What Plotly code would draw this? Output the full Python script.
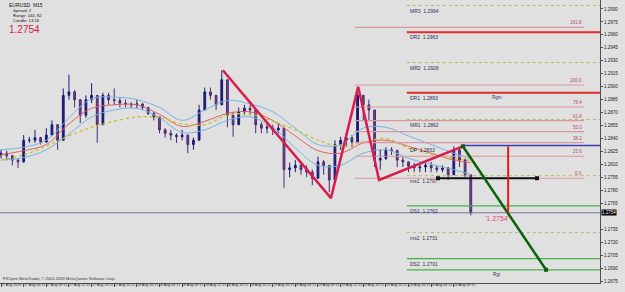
import plotly.graph_objects as go

# ---------------- data ----------------
hours = list(range(84))  # hourly bars from 17 Aug 00:15
first_open = 1.2821
closes = [1.2823,1.2820,1.2815,1.2813,1.2838,1.2838,1.2841,1.2836,1.2844,1.2856,
          1.2838,1.2890,1.2894,1.2885,1.2867,1.2885,1.2890,1.2856,1.2890,1.2885,
          1.2884,1.2881,1.2880,1.2879,1.2880,1.2876,1.2869,1.2865,1.2850,1.2846,
          1.2844,1.2842,1.2844,1.2833,1.2838,1.2873,1.2894,1.2890,1.2879,1.2908,
          1.2867,1.2856,1.2871,1.2875,1.2873,1.2856,1.2852,1.2853,1.2850,1.2852,
          1.2804,1.2806,1.2809,1.2804,1.2801,1.2794,1.2813,1.2809,1.2792,1.2833,
          1.2838,1.2841,1.2836,1.2890,1.2879,1.2873,1.2815,1.2817,1.2827,1.2826,
          1.2815,1.2813,1.2808,1.2806,1.2807,1.2809,1.2806,1.2804,1.2806,1.2798,
          1.2827,1.2815,1.2798,1.2754]
highs = [1.2827,1.2826,1.2821,1.2817,1.2844,1.2842,1.2850,1.2842,1.2852,1.2861,
         1.2856,1.2898,1.2914,1.2896,1.2885,1.2890,1.2904,1.2890,1.2893,1.2893,
         1.2898,1.2887,1.2885,1.2882,1.2885,1.2881,1.2876,1.2871,1.2865,1.2852,
         1.2850,1.2846,1.2850,1.2844,1.2841,1.2879,1.2899,1.2899,1.2890,1.2919,
         1.2908,1.2871,1.2876,1.2879,1.2879,1.2873,1.2859,1.2858,1.2856,1.2858,
         1.2852,1.2812,1.2815,1.2812,1.2809,1.2804,1.2819,1.2815,1.2809,1.2838,
         1.2842,1.2846,1.2844,1.2899,1.2890,1.2885,1.2873,1.2827,1.2830,1.2830,
         1.2827,1.2819,1.2813,1.2812,1.2812,1.2813,1.2813,1.2809,1.2809,1.2807,
         1.2831,1.2827,1.2817,1.2798]
lows = [1.2817,1.2815,1.2809,1.2806,1.2812,1.2835,1.2835,1.2833,1.2835,1.2844,
        1.2827,1.2838,1.2885,1.2876,1.2858,1.2864,1.2881,1.2835,1.2856,1.2879,
        1.2879,1.2876,1.2876,1.2875,1.2875,1.2873,1.2867,1.2861,1.2846,1.2841,
        1.2838,1.2835,1.2838,1.2823,1.2827,1.2838,1.2873,1.2885,1.2873,1.2879,
        1.2853,1.2842,1.2856,1.2867,1.2867,1.2846,1.2846,1.2846,1.2844,1.2846,
        1.2783,1.2795,1.2801,1.2798,1.2795,1.2786,1.2794,1.2798,1.2778,1.2792,
        1.2827,1.2830,1.2830,1.2836,1.2861,1.2861,1.2807,1.2804,1.2815,1.2821,
        1.2807,1.2807,1.2801,1.2801,1.2801,1.2801,1.2801,1.2801,1.2801,1.2792,
        1.2798,1.2807,1.2795,1.2751]
opens = [first_open] + closes[:-1]

ma_hours = [0,4,8,12,16,20,24,28,32,36,40,44,48,52,56,60,64,68,72,76,80,83]
ma_slow = [1.2815,1.2821,1.2831,1.2843,1.2853,1.2860,1.2865,1.2864,1.2857,1.2856,1.2867,
           1.2868,1.2860,1.2850,1.2838,1.2831,1.2836,1.2840,1.2829,1.2822,1.2817,1.2815]
ma_mid = [1.2821,1.2826,1.2833,1.2857,1.2875,1.2879,1.2879,1.2868,1.2854,1.2860,1.2869,
          1.2871,1.2861,1.2843,1.2826,1.2823,1.2835,1.2838,1.2831,1.2823,1.2815,1.2812]
band_up = [1.2827,1.2830,1.2838,1.2864,1.2886,1.2888,1.2885,1.2876,1.2861,1.2873,1.2884,
           1.2880,1.2871,1.2852,1.2833,1.2833,1.2852,1.2853,1.2843,1.2833,1.2823,1.2817]
band_dn = [1.2815,1.2818,1.2827,1.2845,1.2865,1.2873,1.2875,1.2864,1.2847,1.2850,1.2861,
           1.2865,1.2853,1.2829,1.2809,1.2809,1.2823,1.2827,1.2817,1.2810,1.2804,1.2798]

pivot_names = ["MR3", "DR2", "MR2", "DR1", "MR1", "DP", "ms1", "DS1", "ms2", "DS2"]
pivot_values = [1.2994, 1.2963, 1.2928, 1.2893, 1.2862, 1.2832, 1.2797, 1.2762, 1.2731, 1.2701]
target_value = 1.2688

fib_levels = [0.0, 23.6, 38.2, 50.0, 61.8, 76.4, 100.0, 161.8]
fib_low, fib_high = 1.2794, 1.2902

zigzag_hours = [39.2, 58.3, 63.1, 66.8, 81.6]
zigzag_prices = [1.2919, 1.2771, 1.2900, 1.2792, 1.2831]
proj_hours = [81.6, 96.3]
proj_prices = [1.2831, 1.2688]
hseg_hours = [77.2, 94.7]
hseg_price = 1.2794
vseg_hour = 89.6
vseg_prices = [1.2831, 1.2754]
last_price = 1.2754

time_label_hours = [0,4,8,12,16,20,24,28,32,36,40,44,48,52,56,60,64,68,72,76,80]
time_labels = ["17 Aug 2010","17 Aug 04:15","17 Aug 08:15","17 Aug 12:15","17 Aug 16:15",
               "17 Aug 20:15","18 Aug 00:15","18 Aug 04:15","18 Aug 08:15","18 Aug 12:15",
               "18 Aug 16:15","18 Aug 20:15","19 Aug 00:15","19 Aug 04:15","19 Aug 08:15",
               "19 Aug 12:15","19 Aug 16:15","19 Aug 20:15","20 Aug 00:15","20 Aug 04:15",
               "20 Aug 08:15"]
price_ticks = [1.2990,1.2975,1.2960,1.2945,1.2930,1.2915,1.2900,1.2885,1.2870,1.2855,1.2840,
               1.2825,1.2810,1.2795,1.2780,1.2765,1.2735,1.2720,1.2705,1.2690,1.2675]

# ---------------- layout constants ----------------
W, H = 625, 292
X_RANGE = [-0.18, 105.83]
Y_RANGE = [1.26727, 1.30004]
PIVOT_X0, X_END = 71.7, 105.83
FIB_X0, FIB_X1 = 62.5, 103.0
DP_X0 = 81.6
LABEL_H = 87.6
BG = "#e0e0e0"
FONT = "Liberation Sans"

fig = go.Figure()

# moving averages
fig.add_trace(go.Scatter(x=ma_hours, y=band_up, mode="lines", line=dict(color="#78b4e4", width=1, shape="spline")))
fig.add_trace(go.Scatter(x=ma_hours, y=band_dn, mode="lines", line=dict(color="#78b4e4", width=1, shape="spline")))
fig.add_trace(go.Scatter(x=ma_hours, y=ma_mid, mode="lines", line=dict(color="#e06060", width=1, shape="spline")))
fig.add_trace(go.Scatter(x=ma_hours, y=ma_slow, mode="lines", line=dict(color="#c8c020", width=1.3, dash="dot", shape="spline")))

# candles
fig.add_trace(go.Candlestick(
    x=hours, open=opens, high=highs, low=lows, close=closes,
    increasing=dict(line=dict(color="#1c1c78", width=1), fillcolor="#1c1c78"),
    decreasing=dict(line=dict(color="#4a2a70", width=1), fillcolor="#6a4a8a"),
    whiskerwidth=0,
))

# fib lines
rng = fib_high - fib_low
for lv in fib_levels:
    p = fib_low + rng * lv / 100.0
    fig.add_trace(go.Scatter(x=[FIB_X0, FIB_X1], y=[p, p], mode="lines",
                             line=dict(color="#dc97a0", width=1.2)))
    fig.add_annotation(x=FIB_X1, y=p, text=f"{lv:.1f}", showarrow=False, xanchor="right",
                       yanchor="bottom", font=dict(size=4.5, color="#b04868", family=FONT))

# pivot lines
for name, val in zip(pivot_names, pivot_values):
    x0 = DP_X0 if name == "DP" else PIVOT_X0
    if name.startswith("DR"):
        ln = dict(color="#e42a2a", width=2)
    elif name.startswith("DS"):
        ln = dict(color="#48b048", width=1.3)
    elif name == "DP":
        ln = dict(color="#3a3ab8", width=1.5)
    else:
        ln = dict(color="#b8b860", width=1, dash="dot")
    fig.add_trace(go.Scatter(x=[x0, X_END], y=[val, val], mode="lines", line=ln))
    fig.add_annotation(x=PIVOT_X0, y=val, text=f"{name}  {val:.4f}", showarrow=False,
                       xanchor="left", yanchor="top", xshift=1,
                       font=dict(size=5, color="#303058", family=FONT))

# target line
fig.add_trace(go.Scatter(x=[PIVOT_X0, X_END], y=[target_value, target_value], mode="lines",
                         line=dict(color="#48b048", width=1.3)))
fig.add_annotation(x=LABEL_H, y=target_value, text="Rgt", showarrow=False, yanchor="top",
                   font=dict(size=4.5, color="#303058", family=FONT))
fig.add_annotation(x=LABEL_H, y=pivot_values[3], text="Rgm", showarrow=False, yanchor="top",
                   font=dict(size=4.5, color="#303058", family=FONT))

# current price line
fig.add_trace(go.Scatter(x=[X_RANGE[0], X_END], y=[last_price, last_price], mode="lines",
                         line=dict(color="#7474a4", width=1)))

# drawn objects
fig.add_trace(go.Scatter(x=zigzag_hours, y=zigzag_prices, mode="lines",
                         line=dict(color="#d81c4c", width=2.5)))
fig.add_trace(go.Scatter(x=hseg_hours, y=[hseg_price, hseg_price], mode="lines+markers",
                         line=dict(color="#101010", width=2),
                         marker=dict(symbol="square", size=4, color="#101010")))
fig.add_trace(go.Scatter(x=proj_hours, y=proj_prices, mode="lines+markers",
                         line=dict(color="#0c600c", width=2.5),
                         marker=dict(symbol="square", size=4, color="#0c600c")))
fig.add_trace(go.Scatter(x=[vseg_hour, vseg_hour], y=vseg_prices, mode="lines",
                         line=dict(color="#e01c1c", width=2)))
fig.add_annotation(x=LABEL_H, y=last_price, text="'1.2754'", showarrow=False, yanchor="top",
                   font=dict(size=7, color="#e04870", family=FONT))

# time labels
for h, t in zip(time_label_hours, time_labels):
    fig.add_annotation(x=h, y=0, xref="x", yref="paper", text=t, showarrow=False,
                       xanchor="left", yanchor="top", xshift=-1, yshift=1, borderpad=0,
                       font=dict(size=3.6, color="#202020", family=FONT))

# info text
info = [("EURUSD  M15", 5, 5, 8), ("Spread: 2", 4.2, 10.5, 12),
        ("Range: 144, 82", 4.2, 16, 12), ("Candle: 13:16", 4.2, 21, 12)]
PLOT_H = 283.0
for txt, sz, ypx, xs in info:
    fig.add_annotation(x=0, y=1 - ypx / PLOT_H, xref="paper", yref="paper", text=txt, showarrow=False,
                       xanchor="left", yanchor="middle", xshift=xs, borderpad=0,
                       font=dict(size=sz, color="#101010", family=FONT))
fig.add_annotation(x=0, y=1 - 29 / PLOT_H, xref="paper", yref="paper", text=f"{last_price:.4f}",
                   showarrow=False, xanchor="left", yanchor="middle", xshift=8, borderpad=0,
                   font=dict(size=10, color="#d0204c", family=FONT))
fig.add_annotation(x=0, y=0.005, xref="paper", yref="paper",
                   text="FXOpen MetaTrader, © 2001-2009 MetaQuotes Software Corp.", showarrow=False,
                   xanchor="left", yanchor="bottom", xshift=2, borderpad=0,
                   font=dict(size=4, color="#303030", family=FONT))
# current price box
fig.add_annotation(x=1, y=last_price, xref="paper", yref="y", text=f"{last_price:.4f}", showarrow=False,
                   xanchor="left", yanchor="middle", xshift=1, bgcolor="#000000", borderpad=0,
                   font=dict(size=4.5, color="#ffffff", family=FONT))

fig.update_layout(
    width=W, height=H, margin=dict(l=0, r=25, t=0, b=9),
    paper_bgcolor=BG, plot_bgcolor=BG, showlegend=False, boxgap=0.55,
    xaxis=dict(range=X_RANGE, showgrid=False, zeroline=False, showline=True, linecolor="#505050",
               linewidth=1, ticks="outside", ticklen=3, tickcolor="#505050",
               tickvals=time_label_hours, showticklabels=False, rangeslider=dict(visible=False),
               fixedrange=True),
    yaxis=dict(range=Y_RANGE, side="right", showgrid=False, zeroline=False, showline=True,
               linecolor="#505050", linewidth=1, ticks="outside", ticklen=2, tickcolor="#505050",
               tickvals=price_ticks, ticktext=[f"{v:.4f}" for v in price_ticks],
               tickfont=dict(size=4.5, color="#202020", family=FONT), automargin=False),
    font=dict(family=FONT),
)

fig.write_html("out.html")
